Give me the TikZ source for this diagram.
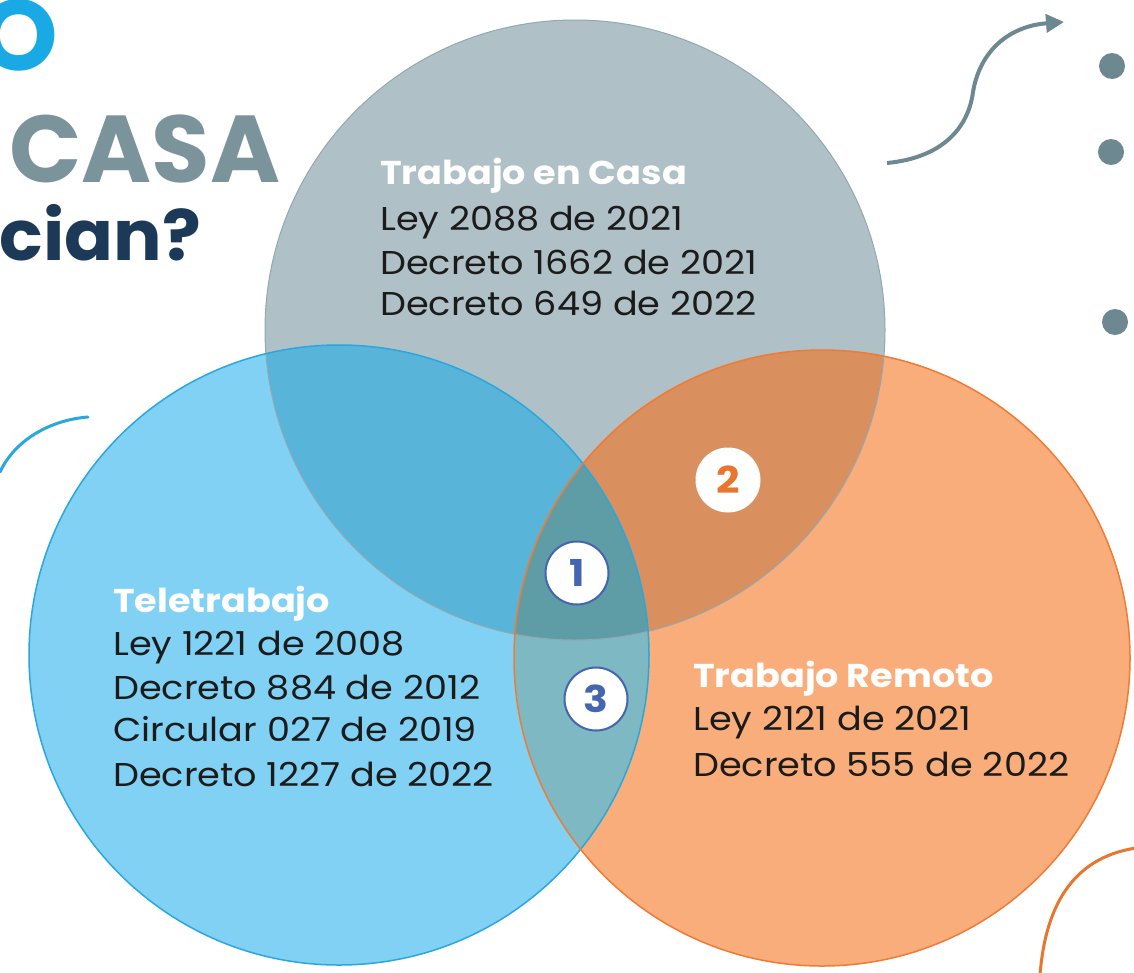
\documentclass[tikz,border=0pt]{standalone}
\usepackage{fontspec}
\setmainfont{Poppins}
\newfontfamily\wide{Poppins}[FakeStretch=1.11]
\newfontfamily\tfont{Poppins}[FakeStretch=1.03]
\usetikzlibrary{arrows.meta}
\definecolor{cgray}{HTML}{AFC0C7}
\definecolor{cblue}{HTML}{80D1F3}
\definecolor{corange}{HTML}{F9AD7B}
\definecolor{cgb}{HTML}{59B4D9}
\definecolor{cgo}{HTML}{D98F5E}
\definecolor{cbo}{HTML}{7DB8C3}
\definecolor{ctri}{HTML}{5E9CA6}
\definecolor{egray}{HTML}{93A8B0}
\definecolor{eblue}{HTML}{2AA7DC}
\definecolor{eorange}{HTML}{EF7B35}
\definecolor{arrowc}{HTML}{6E8891}
\definecolor{numblue}{HTML}{4465B0}
\definecolor{numorange}{HTML}{E8762F}
\definecolor{tblue}{HTML}{19A9E5}
\definecolor{tgray}{HTML}{7B939B}
\definecolor{tnavy}{HTML}{1C3A57}
\definecolor{txt}{HTML}{1B1B1B}
\tikzset{
  ttl/.style={anchor=base west, inner sep=0pt, text=white, font=\wide\fontsize{33}{38}\selectfont\bfseries},
  body/.style={anchor=base west, inner sep=0pt, text=txt, font=\wide\fontsize{33}{38}\selectfont},
  numc/.style={circle, fill=white, draw=numblue, line width=2pt, minimum size=63pt, inner sep=0pt, text=numblue, font=\wide\fontsize{37}{40}\selectfont\bfseries},
  deco/.style={line width=3pt, line cap=round}
}
\begin{document}
\begin{tikzpicture}[x=1pt,y=-1pt]
\useasboundingbox (0,0) rectangle (1134,972);
\clip (0,0) rectangle (1134,972);
\fill[white] (0,0) rectangle (1134,972);
\coordinate (G) at (575,330);
\coordinate (B) at (339,655);
\coordinate (R) at (822,658);
% base fills
\fill[cgray] (G) circle (310pt);
\fill[cblue] (B) circle (310pt);
\fill[corange] (R) circle (308pt);
\begin{scope}
  \clip (B) circle (310pt);
  \fill[cbo] (R) circle (308pt);
\end{scope}
\begin{scope}
  \clip (G) circle (310pt);
  \fill[cgb] (B) circle (310pt);
  \fill[cgo] (R) circle (308pt);
  \clip (B) circle (310pt);
  \fill[ctri] (R) circle (308pt);
\end{scope}
% outlines
\draw[egray, line width=1pt] (G) circle (310pt);
\draw[eblue, line width=1.5pt] (B) circle (310pt);
\draw[eorange, line width=1.5pt] (R) circle (308pt);
% texts
\node[ttl] (gt) at (380,184) {Trabajo en Casa};
\node[body] (g1) at (380,230) {Ley 2088 de 2021};
\node[body] (g2) at (380,274) {Decreto 1662 de 2021};
\node[body] (g3) at (380,315) {Decreto 649 de 2022};
\node[ttl] (bt) at (113,612) {Teletrabajo};
\node[body] (b1) at (113,655) {Ley 1221 de 2008};
\node[body] (b2) at (113,699) {Decreto 884 de 2012};
\node[body] (b3) at (113,741) {Circular 027 de 2019};
\node[body] (b4) at (113,786) {Decreto 1227 de 2022};
\node[ttl] (rt) at (693,687) {Trabajo Remoto};
\node[body] (r1) at (693,730) {Ley 2121 de 2021};
\node[body] (r2) at (693,776) {Decreto 555 de 2022};
% number circles
\node[numc] (n1) at (577,573) {1};
\node[numc, draw=white, text=numorange] (n2) at (728,480) {2};
\node[numc] (n3) at (596,699) {3};
% title fragments
\node[anchor=base east, inner sep=0pt, text=tblue, font=\fontsize{100}{100}\selectfont\bfseries] (tO) at (58,70) {O};
\node[anchor=base west, inner sep=0pt, text=tgray, font=\fontsize{95}{95}\selectfont\bfseries] (tC) at (9,182) {CASA};
\node[anchor=base east, inner sep=0pt, text=tnavy, font=\tfont\fontsize{70}{70}\selectfont\bfseries] (tc) at (201,260) {cian?};
% arrow and dots
\coordinate (a0) at (887,163);
\coordinate (a1) at (973,92);
\coordinate (a2) at (1064,22);
\draw[arrowc, line width=4pt, -{Triangle[length=18pt,width=18pt]}] (a0) .. controls (940,158) and (968,130) .. (a1) .. controls (980,50) and (1010,26) .. (a2);
\fill[arrowc] (1112,66) circle (13pt);
\fill[arrowc] (1111,152) circle (13pt);
\fill[arrowc] (1115,322) circle (13pt);
% decorative arcs
\coordinate (l0) at (88,417);
\coordinate (l1) at (0,472);
\draw[eblue, deco] (l0) .. controls (50,420) and (15,440) .. (l1);
\coordinate (o0) at (1136,848);
\coordinate (o1) at (1040,975);
\draw[numorange, deco] (o0) .. controls (1070,858) and (1045,910) .. (o1);
\end{tikzpicture}
\end{document}
